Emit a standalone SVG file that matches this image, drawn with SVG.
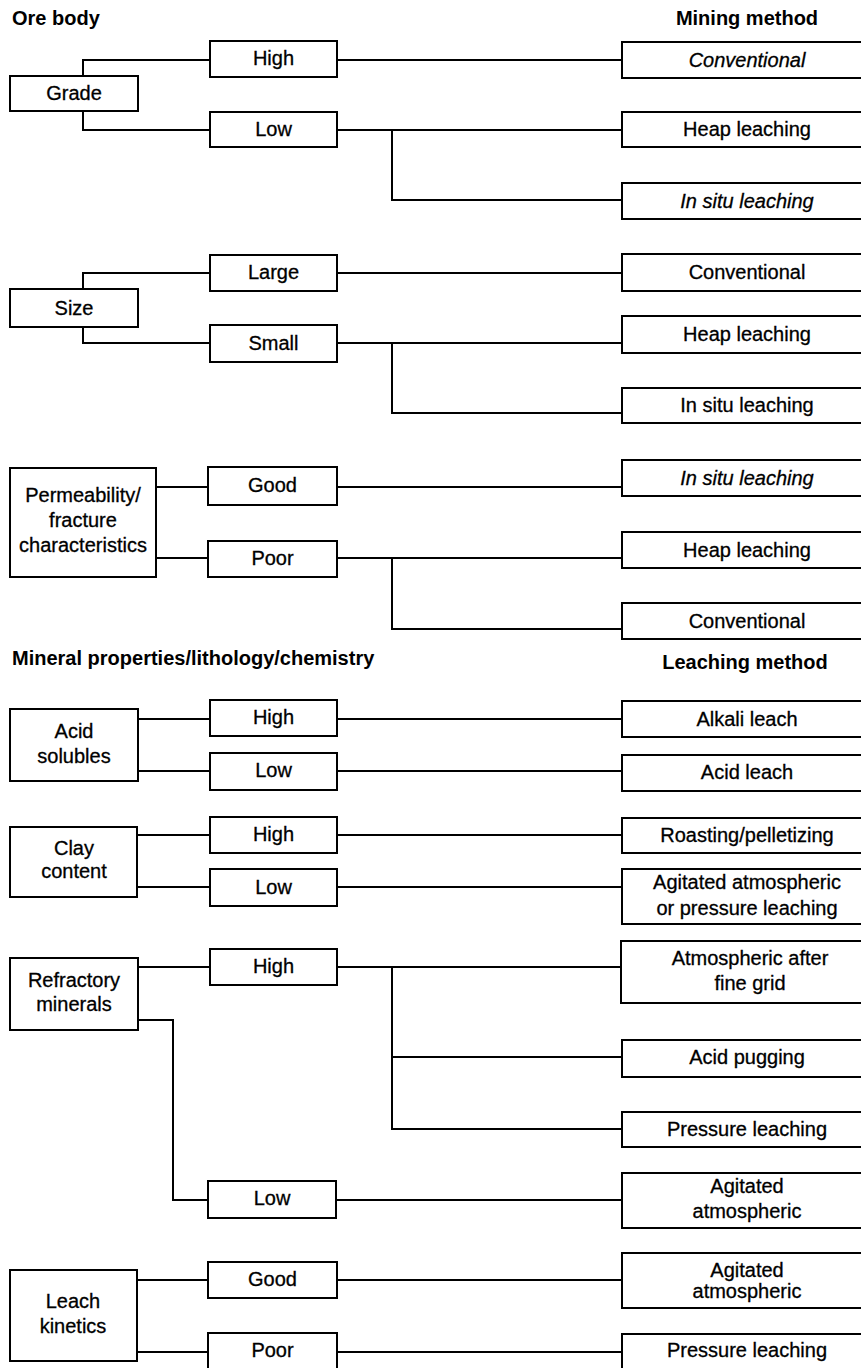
<svg xmlns="http://www.w3.org/2000/svg" width="861" height="1368" viewBox="0 0 861 1368">
<style>
.box{fill:#fff;stroke:#000;stroke-width:2}
.t{font-family:"Liberation Sans",Arial,Helvetica,sans-serif;font-size:20px;text-anchor:middle;fill:#000;stroke:#000;stroke-width:0.3}
.it{font-style:italic}
.h{font-family:"Liberation Sans",Arial,Helvetica,sans-serif;font-size:20px;font-weight:bold;fill:#000}
.c{fill:none;stroke:#000;stroke-width:2}
</style>
<rect width="861" height="1368" fill="#fff"/>
<g id="headers">
<text class="h" x="12" y="25">Ore body</text>
<text class="h" x="747" y="25" text-anchor="middle">Mining method</text>
<text class="h" x="12" y="665">Mineral properties/lithology/chemistry</text>
<text class="h" x="745" y="669" text-anchor="middle">Leaching method</text>
</g>
<g id="connectors">
<path class="c" d="M83,76V60H210M83,111V130H210M337,60H622M337,130H622M392,130V200H622"/>
<path class="c" d="M83,289V273H210M83,327V343H210M337,273H622M337,343H622M392,343V413H622"/>
<path class="c" d="M156,487H208M156,558H208M337,487H622M337,558H622M392,558V629H622"/>
<path class="c" d="M138,719H210M138,771H210M337,719H622M337,771H622"/>
<path class="c" d="M137,835H210M137,887H210M337,835H622M337,887H622"/>
<path class="c" d="M138,967H210M337,967H622M392,967V1129H622M392,1057H622M138,1020H173V1200H208M336,1200H622"/>
<path class="c" d="M137,1280H208M137,1352H208M337,1280H622M337,1352H622"/>
</g>
<g id="grade"><rect class="box" x="10" y="76" width="128" height="35"/><text class="t" x="74" y="100">Grade</text></g>
<g id="grade-high"><rect class="box" x="210" y="41" width="127" height="36"/><text class="t" x="273.5" y="65">High</text></g>
<g id="grade-low"><rect class="box" x="210" y="112" width="127" height="35"/><text class="t" x="273.5" y="136">Low</text></g>
<g id="m1-conventional"><rect class="box" x="622" y="42" width="260" height="36"/><text class="t it" x="747" y="67">Conventional</text></g>
<g id="m1-heap"><rect class="box" x="622" y="112" width="260" height="35"/><text class="t" x="747" y="136">Heap leaching</text></g>
<g id="m1-insitu"><rect class="box" x="622" y="183" width="260" height="36"/><text class="t it" x="747" y="208">In situ leaching</text></g>

<g id="size"><rect class="box" x="10" y="289" width="128" height="38"/><text class="t" x="74" y="315">Size</text></g>
<g id="size-large"><rect class="box" x="210" y="255" width="127" height="36"/><text class="t" x="273.5" y="279">Large</text></g>
<g id="size-small"><rect class="box" x="210" y="325" width="127" height="37"/><text class="t" x="273.5" y="350">Small</text></g>
<g id="m2-conventional"><rect class="box" x="622" y="254" width="260" height="37"/><text class="t" x="747" y="279">Conventional</text></g>
<g id="m2-heap"><rect class="box" x="622" y="316" width="260" height="37"/><text class="t" x="747" y="341">Heap leaching</text></g>
<g id="m2-insitu"><rect class="box" x="622" y="388" width="260" height="35"/><text class="t" x="747" y="412">In situ leaching</text></g>

<g id="permeability"><rect class="box" x="10" y="468" width="146" height="109"/><text class="t" x="83" y="502">Permeability/</text><text class="t" x="83" y="527">fracture</text><text class="t" x="83" y="552">characteristics</text></g>
<g id="perm-good"><rect class="box" x="208" y="467" width="129" height="38"/><text class="t" x="272.5" y="492">Good</text></g>
<g id="perm-poor"><rect class="box" x="208" y="541" width="129" height="36"/><text class="t" x="272.5" y="565">Poor</text></g>
<g id="m3-insitu"><rect class="box" x="622" y="460" width="260" height="36"/><text class="t it" x="747" y="485">In situ leaching</text></g>
<g id="m3-heap"><rect class="box" x="622" y="532" width="260" height="36"/><text class="t" x="747" y="557">Heap leaching</text></g>
<g id="m3-conventional"><rect class="box" x="622" y="603" width="260" height="36"/><text class="t" x="747" y="628">Conventional</text></g>

<g id="acid-solubles"><rect class="box" x="10" y="709" width="128" height="72"/><text class="t" x="74" y="738">Acid</text><text class="t" x="74" y="763">solubles</text></g>
<g id="acid-high"><rect class="box" x="210" y="700" width="127" height="36"/><text class="t" x="273.5" y="724">High</text></g>
<g id="acid-low"><rect class="box" x="210" y="753" width="127" height="37"/><text class="t" x="273.5" y="777">Low</text></g>
<g id="l-alkali"><rect class="box" x="622" y="701" width="260" height="36"/><text class="t" x="747" y="726">Alkali leach</text></g>
<g id="l-acid"><rect class="box" x="622" y="755" width="260" height="36"/><text class="t" x="747" y="779">Acid leach</text></g>

<g id="clay"><rect class="box" x="10" y="827" width="127" height="70"/><text class="t" x="74" y="855">Clay</text><text class="t" x="74" y="878">content</text></g>
<g id="clay-high"><rect class="box" x="210" y="817" width="127" height="36"/><text class="t" x="273.5" y="841">High</text></g>
<g id="clay-low"><rect class="box" x="210" y="869" width="127" height="37"/><text class="t" x="273.5" y="894">Low</text></g>
<g id="l-roasting"><rect class="box" x="622" y="818" width="260" height="35"/><text class="t" x="747" y="842">Roasting/pelletizing</text></g>
<g id="l-agitated-pressure"><rect class="box" x="622" y="869" width="260" height="55"/><text class="t" x="747" y="889">Agitated atmospheric</text><text class="t" x="747" y="915">or pressure leaching</text></g>

<g id="refractory"><rect class="box" x="10" y="958" width="128" height="72"/><text class="t" x="74" y="987">Refractory</text><text class="t" x="74" y="1011">minerals</text></g>
<g id="refr-high"><rect class="box" x="210" y="949" width="127" height="36"/><text class="t" x="273.5" y="973">High</text></g>
<g id="refr-low"><rect class="box" x="208" y="1181" width="128" height="37"/><text class="t" x="272" y="1205">Low</text></g>
<g id="l-atm-fine"><rect class="box" x="621" y="941" width="261" height="62"/><text class="t" x="750" y="965">Atmospheric after</text><text class="t" x="750" y="990">fine grid</text></g>
<g id="l-acid-pugging"><rect class="box" x="622" y="1040" width="260" height="37"/><text class="t" x="747" y="1064">Acid pugging</text></g>
<g id="l-pressure-1"><rect class="box" x="622" y="1112" width="260" height="35"/><text class="t" x="747" y="1136">Pressure leaching</text></g>
<g id="l-agitated-1"><rect class="box" x="622" y="1173" width="260" height="55"/><text class="t" x="747" y="1193">Agitated</text><text class="t" x="747" y="1218">atmospheric</text></g>

<g id="leach-kinetics"><rect class="box" x="10" y="1270" width="127" height="91"/><text class="t" x="73" y="1308">Leach</text><text class="t" x="73" y="1333">kinetics</text></g>
<g id="kin-good"><rect class="box" x="208" y="1262" width="129" height="36"/><text class="t" x="272.5" y="1286">Good</text></g>
<g id="kin-poor"><rect class="box" x="208" y="1333" width="129" height="45"/><text class="t" x="272.5" y="1357">Poor</text></g>
<g id="l-agitated-2"><rect class="box" x="622" y="1253" width="260" height="55"/><text class="t" x="747" y="1277">Agitated</text><text class="t" x="747" y="1298">atmospheric</text></g>
<g id="l-pressure-2"><rect class="box" x="622" y="1334" width="260" height="45"/><text class="t" x="747" y="1357">Pressure leaching</text></g>
</svg>
